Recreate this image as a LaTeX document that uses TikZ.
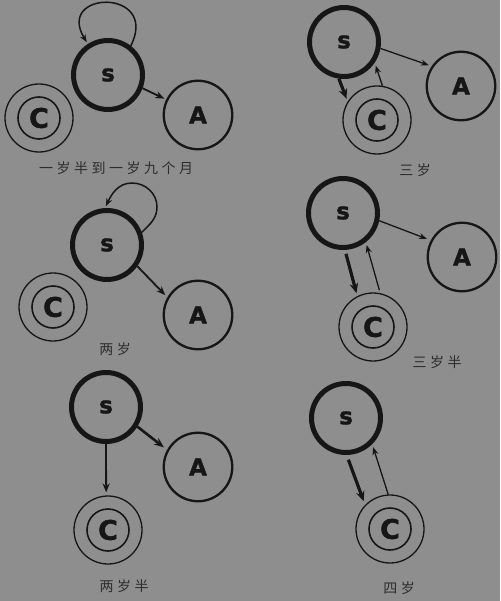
\documentclass[tikz,border=0pt]{standalone}
\usepackage{fontspec}
\usetikzlibrary{arrows.meta}
\newfontfamily\lettfont{DejaVu Sans}[BoldFeatures={FakeBold=1.6}]
\newfontfamily\cjk[LetterSpace=25]{Noto Sans CJK SC}
\definecolor{bg}{RGB}{142,142,142}
\definecolor{ink}{RGB}{22,22,22}
\tikzset{
  snode/.style={circle, draw=ink, line width=5pt, minimum size=69pt, inner sep=0pt,
    font=\lettfont\bfseries\fontsize{23}{23}\selectfont, text=ink},
  anode/.style={circle, draw=ink, line width=2.3pt, minimum size=68.5pt, inner sep=0pt,
    font=\lettfont\bfseries\fontsize{23}{23}\selectfont, text=ink},
  cnode/.style={circle, draw=ink, line width=1.3pt, minimum size=68pt, inner sep=0pt,
    font=\lettfont\bfseries\fontsize{27}{27}\selectfont, text=ink,
    path picture={\draw[ink, line width=1.6pt] (path picture bounding box.center) circle[radius=21pt];}},
  thinarr/.style={ink, line width=1.3pt, -{Stealth[length=8pt,width=6pt]}},
  midarr/.style={ink, line width=1.8pt, -{Stealth[length=9pt,width=7pt]}},
  boldarr/.style={ink, line width=3.2pt, -{Stealth[length=10pt,width=8.5pt]}},
  loopst/.style={ink, line width=1.5pt, -{Stealth[length=8pt,width=6pt]}},
  lab/.style={font=\cjk\fontsize{14}{14}\selectfont, text=ink!90}
}
\begin{document}
\begin{tikzpicture}[x=1pt,y=-1pt]
\fill[bg] (0,0) rectangle (500,601);
\useasboundingbox (0,0) rectangle (500,601);

% Panel 1
\node[snode] (s1) at (108,75) {s};
\node[anode] (a1) at (198,115) {A};
\node[cnode] (c1) at (39,118) {C};
\draw[midarr, shorten >=2pt] (s1.-21) -- (a1.154);
\draw[loopst, shorten >=2pt] (s1.52) .. controls (160,-12) and (55,-10) .. (s1.123);
\node[lab] (l1) at (116,168) {一岁半到一岁九个月};

% Panel 2
\node[snode] (s2) at (344,42) {s};
\node[anode] (a2) at (461,86) {A};
\node[cnode] (c2) at (377,120) {C};
\draw[thinarr, shorten >=3pt] (s2.-10) -- (a2.146);
\draw[boldarr, shorten >=3pt] (s2.-98) -- (c2.148);
\draw[thinarr, shorten >=3pt] (c2.81) -- (s2.-34);
\node[lab] (l2) at (415,170) {三岁};

% Panel 3
\node[snode] (s3) at (107,245) {s};
\node[anode] (a3) at (198,315) {A};
\node[cnode] (c3) at (53,307) {C};
\draw[midarr, shorten >=3pt] (s3.-35) -- (a3.150);
\coordinate (p3a) at (157,207);
\coordinate (p3b) at (132,183);
\draw[loopst, shorten >=2pt] (s3.20) to[out=45, in=-90] (p3a) to[out=90, in=0] (p3b) to[out=180, in=65] (s3.93);
\node[lab] (l3) at (115,349) {两岁};

% Panel 4
\node[snode] (s4) at (343,213) {s};
\node[anode] (a4) at (462,257) {A};
\node[cnode] (c4) at (373,327) {C};
\draw[thinarr, shorten >=4pt] (s4.-12) -- (a4.152);
\draw[boldarr, shorten <=4pt, shorten >=3pt] (s4.-87) -- (c4.117);
\draw[thinarr, shorten <=3pt, shorten >=3pt] (c4.78) -- (s4.-52);
\node[lab] (l4) at (437,362) {三岁半};

% Panel 5
\node[snode] (s5) at (106,407) {s};
\node[anode] (a5) at (198,467) {A};
\node[cnode] (c5) at (108,530) {C};
\draw[ink, line width=2.6pt, -{Stealth[length=10pt,width=8pt]}, shorten >=4pt] (s5.-32) -- (a5.151);
\draw[midarr, shorten >=3pt] (s5.-90) -- (c5.93);
\node[lab] (l5) at (124,586) {两岁半};

% Panel 6
\node[snode] (s6) at (346,418) {s};
\node[cnode] (c6) at (390,529) {C};
\draw[boldarr, shorten <=5pt, shorten >=4pt] (s6.-89) -- (c6.136);
\draw[thinarr, shorten >=3pt] (c6.93) -- (s6.-45);
\node[lab] (l6) at (399,588) {四岁};
\end{tikzpicture}
\end{document}
